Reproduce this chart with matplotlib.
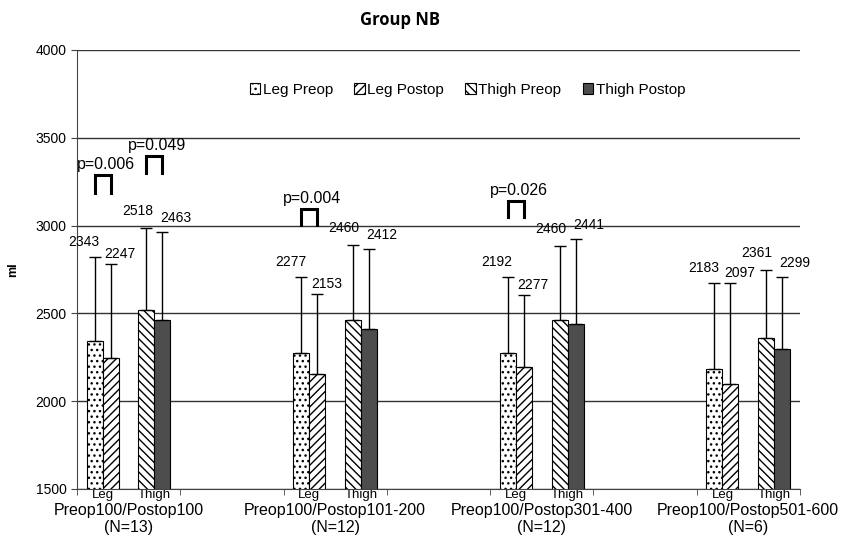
import numpy as np
import matplotlib
matplotlib.use("Agg")
import matplotlib.pyplot as plt
import matplotlib.transforms as mtransforms

plt.rcParams['font.family'] = ['Liberation Sans', 'DejaVu Sans']
plt.rcParams['hatch.linewidth'] = 1.0

# data
groups = ['Preop100/Postop100\n(N=13)', 'Preop100/Postop101-200\n(N=12)',
          'Preop100/Postop301-400\n(N=12)', 'Preop100/Postop501-600\n(N=6)']
series = ['Leg Preop', 'Leg Postop', 'Thigh Preop', 'Thigh Postop']
leg_pre = [2343, 2277, 2277, 2183]
leg_post = [2247, 2153, 2192, 2097]
thigh_pre = [2518, 2460, 2460, 2361]
thigh_post = [2463, 2412, 2441, 2299]
leg_pre_err = [478, 430, 430, 490]
leg_post_err = [534, 457, 413, 576]
thigh_pre_err = [468, 430, 424, 386]
thigh_post_err = [500, 455, 483, 408]
# labels as printed on the chart
leg_pre_lab = ['2343', '2277', '2192', '2183']
leg_post_lab = ['2247', '2153', '2277', '2097']
thigh_pre_lab = ['2518', '2460', '2460', '2361']
thigh_post_lab = ['2463', '2412', '2441', '2299']

# significance brackets
p_group = [0, 0, 1, 2]
p_pair = [(0, 1), (2, 3), (0, 1), (0, 1)]
p_low = [3186, 3300, 3003, 3049]
p_high = [3288, 3396, 3095, 3140]
p_text = ['p=0.006', 'p=0.049', 'p=0.004', 'p=0.026']

values = [leg_pre, leg_post, thigh_pre, thigh_post]
errors = [leg_pre_err, leg_post_err, thigh_pre_err, thigh_post_err]
labels = [leg_pre_lab, leg_post_lab, thigh_pre_lab, thigh_post_lab]
faces = ['white', 'white', 'white', '#4d4d4d']
hatches = ['...', '////', '\\\\\\\\', None]
lab_off = [(-11, 15), (9, 10), (-9, 17), (13, 14)]  # offset pixels from cap

w = 0.31
gstart = np.arange(len(groups)) * 4
# bar x: leg pair centered at +0.5, thigh pair at +1.5
xoff = [0.5 - w / 2, 0.5 + w / 2, 1.5 - w / 2, 1.5 + w / 2]

fig = plt.figure(figsize=(8.42, 5.37), dpi=100)
ax = fig.add_axes([0.0915, 0.0894, 0.8585, 0.8175])

ax.set_ylim(1500, 4000)
ax.set_xlim(0, 14)
ax.set_yticks(np.arange(1500, 4001, 500))
ax.yaxis.grid(True, color='#333333', lw=1.0)
ax.set_axisbelow(True)
for s in ['top', 'right']:
    ax.spines[s].set_visible(False)
ax.spines['left'].set_color('#444')
ax.spines['bottom'].set_color('#444')

for i in range(4):
    x = gstart + xoff[i]
    ax.bar(x, values[i], width=w, bottom=0, color=faces[i], edgecolor='black',
           lw=0.8, hatch=hatches[i], label=series[i], zorder=2)
    ax.errorbar(x, values[i], yerr=[np.zeros(4), errors[i]], fmt='none',
                ecolor='black', elinewidth=1, capsize=4, capthick=1, zorder=3)
    for j in range(4):
        ax.annotate(labels[i][j], (x[j], values[i][j] + errors[i][j]),
                    xytext=lab_off[i], textcoords='offset pixels',
                    ha='center', va='center', fontsize=10)

for g, (a, b), lo, hi, t in zip(p_group, p_pair, p_low, p_high, p_text):
    xa = gstart[g] + xoff[a]
    xb = gstart[g] + xoff[b]
    ax.plot([xa, xa, xb, xb], [lo, hi, hi, lo], color='black', lw=2.2,
            solid_joinstyle='miter', zorder=4)
    ax.annotate(t, ((xa + xb) / 2, hi), xytext=(2, 2), textcoords='offset points',
                ha='center', va='bottom', fontsize=11.5)

# x axis: inner Leg/Thigh labels, group boundary ticks, outer group names
sub_x = np.sort(np.concatenate([gstart + 0.5, gstart + 1.5]))
ax.set_xticks(sub_x)
ax.set_xticklabels(['Leg', 'Thigh'] * 4, fontsize=9.5)
ax.tick_params(axis='x', which='major', length=0, pad=0)
ax.set_xticks(np.sort(np.concatenate([gstart, gstart + 2])), minor=True)
ax.tick_params(axis='x', which='minor', length=4, color='#444')
ax.tick_params(axis='y', labelsize=10, length=4, color='#444')

trans = mtransforms.blended_transform_factory(ax.transData, ax.transAxes)
for g in range(4):
    ax.text(gstart[g] + 1, -0.032, groups[g], transform=trans, ha='center',
            va='top', fontsize=11.5, linespacing=1.15,
            family=['Liberation Sans Narrow', 'Liberation Sans'])

ax.set_ylabel('ml', fontsize=9, fontweight='bold', labelpad=12)

ax.legend(loc='center', bbox_to_anchor=(0.54, 0.909), ncol=4, frameon=False,
          fontsize=11, handlelength=0.7, handleheight=0.7, handletextpad=0.15,
          columnspacing=1.4)

fig.text(0.475, 0.962, 'Group NB', ha='center', va='center', fontsize=12,
         fontweight='bold', family=['Open Sans', 'DejaVu Sans'])

fig.savefig('out.png', dpi=100)
